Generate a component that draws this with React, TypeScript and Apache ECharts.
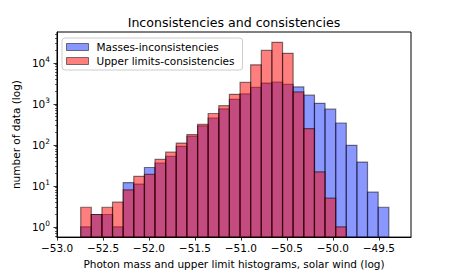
import React, { useEffect, useRef } from "react";
import * as echarts from "echarts";

const binEdges = [
  -52.742, -52.627, -52.511, -52.396, -52.280, -52.165, -52.049, -51.934, -51.818, -51.703,
  -51.587, -51.471, -51.356, -51.240, -51.125, -51.009, -50.894, -50.778, -50.663, -50.547,
  -50.432, -50.316, -50.200, -50.085, -49.969, -49.854, -49.738, -49.623, -49.507, -49.391,
];
const massesCounts = [
  1, 2, 2, 1, 12, 11, 28, 36, 52, 92, 160, 290, 450, 750, 1280, 1740, 2500, 3200, 3400, 2960,
  2570, 1620, 1025, 740, 340, 97, 38, 7, 3,
];
const upperCounts = [
  3, 2, 3, 4, 8, 17, 19, 44, 66, 110, 178, 314, 580, 900, 1700, 3320, 8900, 20000, 31500, 17000,
  1950, 248, 22, 5, 1, 0, 0, 0, 0,
];
const seriesNames = ["Masses-inconsistencies", "Upper limits-consistencies"];
const xTicks = [-53.0, -52.5, -52.0, -51.5, -51.0, -50.5, -50.0, -49.5];
const yTickExponents = [0, 1, 2, 3, 4];
const xMin = -53.0;
const xMax = -49.15;
const yMinExp = -0.25;
const yMaxExp = 4.75;

const FONT = "DejaVu Sans";
const BLUE = "rgba(20,48,255,0.5)";
const RED = "rgba(255,0,0,0.5)";
const EDGE = "rgba(0,0,0,0.5)";

function toBins(counts: number[]) {
  const out: number[][] = [];
  counts.forEach((c, i) => {
    if (c > 0) out.push([binEdges[i], binEdges[i + 1], Math.log10(c)]);
  });
  return out;
}

function minorTicks() {
  const out: number[] = [];
  for (let e = -1; e <= 4; e++) {
    for (let k = 2; k <= 9; k++) {
      const v = Math.log10(k) + e;
      if (v > yMinExp && v < yMaxExp) out.push(v);
    }
  }
  return out;
}

function makeSeries(name: string, counts: number[], fill: string) {
  return {
    name,
    type: "custom",
    xAxisIndex: 0,
    yAxisIndex: 0,
    clip: true,
    itemStyle: { color: fill, borderColor: EDGE, borderWidth: 1 },
    encode: { x: [0, 1], y: 2 },
    data: toBins(counts),
    renderItem: (params: any, api: any) => {
      const p0 = api.coord([api.value(0), api.value(2)]);
      const p1 = api.coord([api.value(1), yMinExp]);
      return {
        type: "rect",
        shape: { x: p0[0], y: p0[1], width: p1[0] - p0[0], height: p1[1] - p0[1] },
        style: { fill, stroke: EDGE, lineWidth: 1.2 },
      };
    },
  };
}

export default function App() {
  const ref = useRef<HTMLDivElement>(null);
  useEffect(() => {
    if (!ref.current) return;
    const chart = echarts.init(ref.current, undefined, { renderer: "svg" });
    chart.setOption({
      animation: false,
      textStyle: { fontFamily: FONT },
      grid: {
        left: 57,
        right: 46,
        top: 32,
        bottom: 34,
        show: true,
        borderColor: "#000",
        borderWidth: 1,
        backgroundColor: "transparent",
      },
      graphic: [
        {
          type: "text",
          x: 234,
          y: 22.5,
          style: {
            text: "Inconsistencies and consistencies",
            fontFamily: FONT,
            fontSize: 12.6,
            fill: "#000",
            textAlign: "center",
            textVerticalAlign: "middle",
          },
        },
      ],
      legend: {
        orient: "vertical",
        left: 62,
        top: 38,
        padding: [3, 8, 3, 4],
        itemGap: 2,
        itemWidth: 22,
        itemHeight: 7,
        icon: "rect",
        backgroundColor: "#fff",
        borderColor: "#cccccc",
        borderWidth: 1,
        borderRadius: 3,
        textStyle: { fontFamily: FONT, fontSize: 10.5, color: "#000", lineHeight: 12, padding: [0, 0, 0, 3] },
        data: [
          { name: seriesNames[0], itemStyle: { color: BLUE, borderColor: EDGE, borderWidth: 1 } },
          { name: seriesNames[1], itemStyle: { color: RED, borderColor: EDGE, borderWidth: 1 } },
        ],
      },
      xAxis: {
        type: "value",
        min: xMin,
        max: xMax,
        name: "Photon mass and upper limit histograms, solar wind (log)",
        nameLocation: "middle",
        nameGap: 17,
        nameTextStyle: { fontFamily: FONT, fontSize: 10.5, color: "#000" },
        axisLine: { show: true, onZero: false, lineStyle: { color: "#000", width: 1 } },
        axisTick: { show: true, inside: false, length: 3.5, customValues: xTicks, lineStyle: { color: "#000", width: 0.8 } },
        axisLabel: {
          customValues: xTicks,
          margin: 5,
          fontFamily: FONT,
          fontSize: 10.5,
          color: "#000",
          formatter: (v: number) => v.toFixed(1).replace("-", "\u2212"),
        },
        splitLine: { show: false },
      },
      yAxis: [
        {
          type: "value",
          min: yMinExp,
          max: yMaxExp,
          name: "number of data (log)",
          nameLocation: "middle",
          nameGap: 30,
          nameTextStyle: { fontFamily: FONT, fontSize: 10.5, color: "#000" },
          axisLine: { show: true, onZero: false, lineStyle: { color: "#000", width: 1 } },
          axisTick: { show: true, inside: false, length: 3.5, customValues: yTickExponents, lineStyle: { color: "#000", width: 0.8 } },
          axisLabel: {
            customValues: yTickExponents,
            margin: 7,
            formatter: (v: number) => `{b|10}{s|${Math.round(v)}}`,
            rich: {
              b: { fontFamily: FONT, fontSize: 10.5, color: "#000", lineHeight: 14 },
              s: { fontFamily: FONT, fontSize: 7.4, color: "#000", lineHeight: 8, verticalAlign: "top" },
            },
          },
          splitLine: { show: false },
        },
        {
          type: "value",
          min: yMinExp,
          max: yMaxExp,
          position: "left",
          axisLine: { show: false, onZero: false },
          axisTick: { show: true, inside: false, length: 2, customValues: minorTicks(), lineStyle: { color: "#000", width: 0.6 } },
          axisLabel: { show: false },
          splitLine: { show: false },
        },
      ],
      series: [
        makeSeries(seriesNames[0], massesCounts, BLUE),
        makeSeries(seriesNames[1], upperCounts, RED),
      ],
    });
    return () => chart.dispose();
  }, []);
  return (
    <div
      ref={ref}
      style={{ position: "fixed", left: 0, top: 0, width: 457, height: 274, background: "#fff" }}
    />
  );
}
